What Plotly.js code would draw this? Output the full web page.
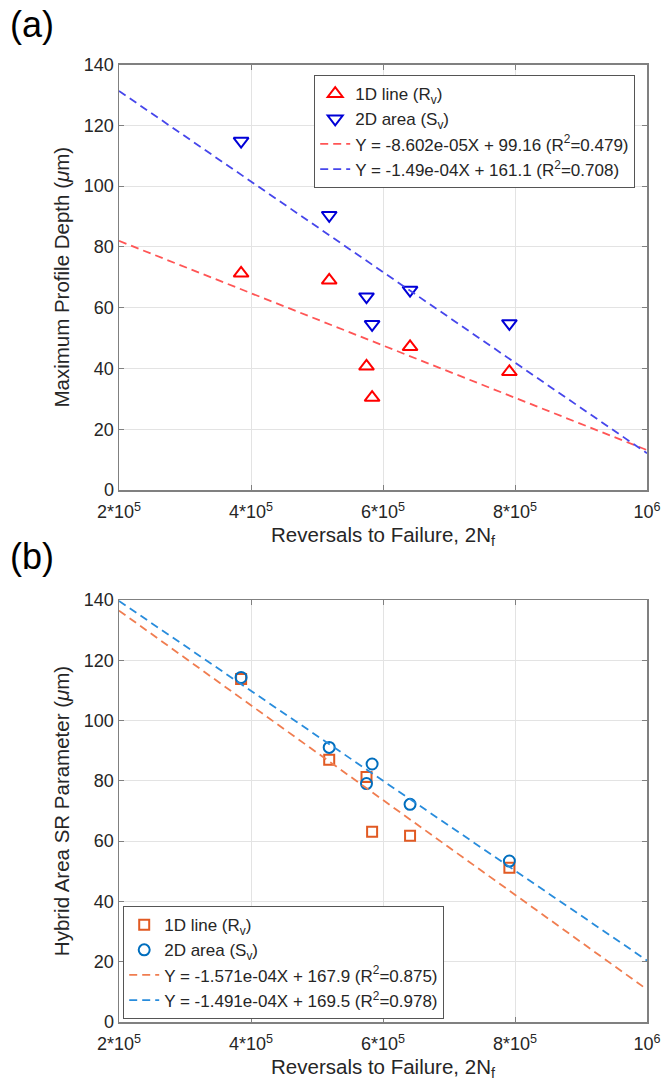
<!DOCTYPE html>
<html>
<head>
<meta charset="utf-8">
<script src="https://cdn.plot.ly/plotly-3.0.1.min.js"></script>
<style>html,body{margin:0;padding:0;background:#fff;}#chart{width:664px;height:1089px;}</style>
</head>
<body>
<div id="chart"></div>
<script>
// Reversals to failure (shared by both panels)
const reversals = [385000, 518500, 575000, 583500, 641000, 791500];
// Panel (a): maximum profile depth (µm)
const depthRv = [71.3, 69.0, 40.7, 30.4, 47.1, 38.9];
const depthSv = [114.8, 90.4, 63.6, 54.5, 65.8, 54.8];
// Panel (b): hybrid area SR parameter (µm)
const hybridRv = [113.8, 87.0, 81.3, 63.1, 61.8, 51.2];
const hybridSv = [114.3, 91.1, 79.1, 85.6, 72.2, 53.4];
// Fit line end points (x range of the axes)
const fitX = [200000, 1000000];
const fitDepthRv = [81.96, 13.14];
const fitDepthSv = [131.3, 12.1];
const fitHybridRv = [136.48, 10.8];
const fitHybridSv = [139.68, 20.4];
// Labels
const xTickVals = [200000, 400000, 600000, 800000, 1000000];
const xTickText = ['2*10<sup>5</sup>', '4*10<sup>5</sup>', '6*10<sup>5</sup>', '8*10<sup>5</sup>', '10<sup>6</sup>'];
const namesA = ['1D line (R<sub>v</sub>)', '2D area (S<sub>v</sub>)',
  'Y = -8.602e-05X + 99.16 (R<sup>2</sup>=0.479)', 'Y = -1.49e-04X + 161.1 (R<sup>2</sup>=0.708)'];
const namesB = ['1D line (R<sub>v</sub>)', '2D area (S<sub>v</sub>)',
  'Y = -1.571e-04X + 167.9 (R<sup>2</sup>=0.875)', 'Y = -1.491e-04X + 169.5 (R<sup>2</sup>=0.978)'];

const FONT = 'Liberation Sans, Arial, Helvetica, sans-serif';
const TXT = '#262626';

const traces = [
  {x: reversals, y: depthRv, type: 'scatter', mode: 'markers', name: namesA[0],
   marker: {symbol: 'triangle-up-open', size: 13, color: 'rgb(255,0,0)', line: {width: 2, color: 'rgb(255,0,0)'}},
   xaxis: 'x', yaxis: 'y', legend: 'legend'},
  {x: reversals, y: depthSv, type: 'scatter', mode: 'markers', name: namesA[1],
   marker: {symbol: 'triangle-down-open', size: 13, color: 'rgb(0,0,215)', line: {width: 2, color: 'rgb(0,0,215)'}},
   xaxis: 'x', yaxis: 'y', legend: 'legend'},
  {x: fitX, y: fitDepthRv, type: 'scatter', mode: 'lines', name: namesA[2],
   line: {color: 'rgb(255,85,85)', width: 1.8, dash: '8px,5px'}, xaxis: 'x', yaxis: 'y', legend: 'legend'},
  {x: fitX, y: fitDepthSv, type: 'scatter', mode: 'lines', name: namesA[3],
   line: {color: 'rgb(70,70,235)', width: 1.8, dash: '8px,5px'}, xaxis: 'x', yaxis: 'y', legend: 'legend'},

  {x: reversals, y: hybridRv, type: 'scatter', mode: 'markers', name: namesB[0],
   marker: {symbol: 'square-open', size: 10, color: 'rgb(225,90,35)', line: {width: 2, color: 'rgb(225,90,35)'}},
   xaxis: 'x2', yaxis: 'y2', legend: 'legend2'},
  {x: reversals, y: hybridSv, type: 'scatter', mode: 'markers', name: namesB[1],
   marker: {symbol: 'circle-open', size: 11, color: 'rgb(0,110,190)', line: {width: 2, color: 'rgb(0,110,190)'}},
   xaxis: 'x2', yaxis: 'y2', legend: 'legend2'},
  {x: fitX, y: fitHybridRv, type: 'scatter', mode: 'lines', name: namesB[2],
   line: {color: 'rgb(240,125,80)', width: 1.8, dash: '8px,5px'}, xaxis: 'x2', yaxis: 'y2', legend: 'legend2'},
  {x: fitX, y: fitHybridSv, type: 'scatter', mode: 'lines', name: namesB[3],
   line: {color: 'rgb(40,140,220)', width: 1.8, dash: '8px,5px'}, xaxis: 'x2', yaxis: 'y2', legend: 'legend2'}
];

function xAxis(anchor) {
  return {
    anchor: anchor, domain: [119/664, 647/664], range: [200000, 1000000],
    tickmode: 'array', tickvals: xTickVals, ticktext: xTickText,
    ticks: 'inside', ticklen: 5, tickcolor: '#808080', mirror: 'ticks',
    showline: true, linecolor: '#808080', linewidth: 1.5,
    showgrid: true, gridcolor: '#e3e3e3', gridwidth: 1, zeroline: false,
    ticklabelstandoff: 5,
    tickfont: {family: FONT, size: 18, color: TXT},
    title: {text: 'Reversals to Failure, 2N<sub>f</sub>', font: {family: FONT, size: 20.5, color: TXT}, standoff: 6}
  };
}
function yAxis(anchor, domain, title) {
  return {
    anchor: anchor, domain: domain, range: [0, 140],
    tickmode: 'linear', tick0: 0, dtick: 20,
    ticks: 'inside', ticklen: 5, tickcolor: '#808080', mirror: 'ticks',
    showline: true, linecolor: '#808080', linewidth: 1.5,
    showgrid: true, gridcolor: '#e3e3e3', gridwidth: 1, zeroline: false,
    tickfont: {family: FONT, size: 18, color: TXT},
    title: {text: title, font: {family: FONT, size: 20.5, color: TXT}, standoff: 8}
  };
}

const legendBase = {
  xanchor: 'left', yanchor: 'top', bgcolor: '#fff', bordercolor: '#555', borderwidth: 1.2,
  font: {family: FONT, size: 17, color: TXT}, tracegroupgap: 0, itemwidth: 30
};

const layout = {
  width: 664, height: 1089,
  margin: {l: 0, r: 0, t: 0, b: 0},
  paper_bgcolor: '#fff', plot_bgcolor: '#fff',
  font: {family: FONT, color: TXT},
  xaxis: xAxis('y'),
  yaxis: yAxis('x', [1 - 490/1089, 1 - 64.5/1089], 'Maximum Profile Depth (<i>μ</i>m)'),
  xaxis2: xAxis('y2'),
  yaxis2: yAxis('x2', [1 - 1022/1089, 1 - 600/1089], 'Hybrid Area SR Parameter (<i>μ</i>m)'),
  legend: Object.assign({x: 314/664, y: 1 - 75/1089}, legendBase),
  legend2: Object.assign({x: 123/664, y: 1 - 906/1089}, legendBase),
  showlegend: true,
  annotations: [
    {text: '(a)', xref: 'paper', yref: 'paper', x: 8/664, y: 1 - 24/1089, xanchor: 'left', yanchor: 'middle',
     showarrow: false, font: {family: FONT, size: 36, color: '#000'}},
    {text: '(b)', xref: 'paper', yref: 'paper', x: 8/664, y: 1 - 556/1089, xanchor: 'left', yanchor: 'middle',
     showarrow: false, font: {family: FONT, size: 36, color: '#000'}}
  ]
};

Plotly.newPlot('chart', traces, layout, {staticPlot: true, displayModeBar: false});
</script>
</body>
</html>
